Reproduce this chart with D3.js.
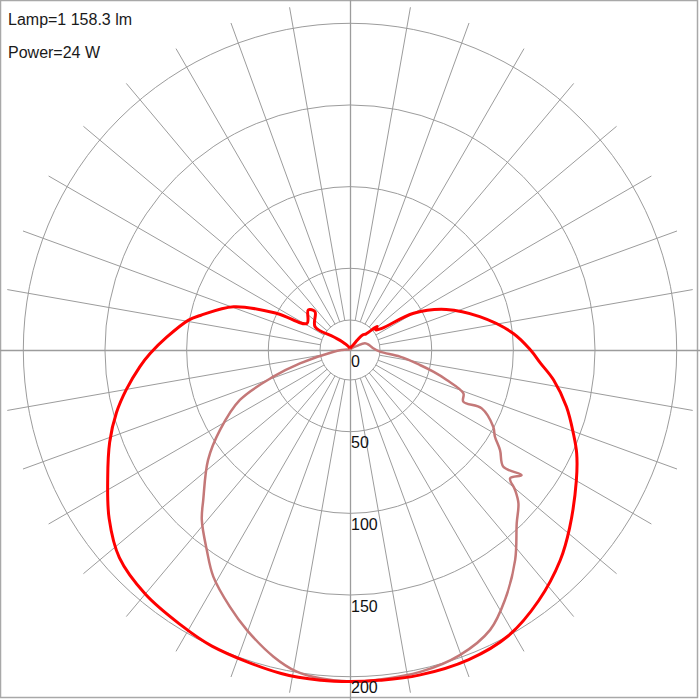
<!DOCTYPE html>
<html><head><meta charset="utf-8">
<script src="https://cdn.jsdelivr.net/npm/d3@7/dist/d3.min.js"></script>
<style>body{margin:0;background:#fff}svg{display:block}text{font-family:"Liberation Sans",Arial,sans-serif}</style>
</head><body><svg id="c" width="700" height="700"></svg>
<script>
// ---- data ----
const infoLines = ["Lamp=1 158.3 lm", "Power=24 W"];
const ringValues = [50, 100, 150, 200];
const tickValues = [0, 50, 100, 150, 200];
const tickLabels = ["0", "50", "100", "150", "200"];
const spokeAngles = d3.range(0, 360, 10);

// C0-C180 plane (signed gamma: negative = left half), cd/klm
const redGamma = [-180,-160,-145,-137,-128.5,-123.7,-137.6,-133.8,-121.7,-116.6,-110.4,-103,-100.5,-94,-89,-85.5,-80,-75,-69,-62,-55,-48,-40,-32,-25,-12,-5,0,
  5,12,21,29,37,45,51,60,65.5,69.5,75.3,81.6,86,90,95.8,104.4,112.8,120,124,128,131,135,140,143,150,160,180];
const redValue = [1,2,4,7,13,25.7,31.8,35.4,31,50,76,94,100.5,112.5,122.4,129,139,148,157.6,168,180,190,195,197.5,200,202.5,203,203,
  203,203.5,203,200,192,182,173,160,152.5,146,137,126,117,110.5,100.5,82,64,45,24,20,22,14,12,8,3,2,1];

// C90-C270 plane
const brownGamma = [-180,-120,-100,-90,-84,-75,-70.8,-65.6,-58.4,-52.2,-44.4,-41.1,-35.6,-31.1,-25.1,-20.2,-14,-9.4,-5.2,0,
  5.2,12.3,19.8,26.6,31.8,38.2,43.9,47.7,49.7,51.3,53.9,52.7,56.3,59.1,61.8,66.1,65.5,69.1,72.8,75.4,77.9,82.4,86.8,95,105,114,120,140,180];
const brownValue = [0,0.5,2,5,10,31.7,49.7,74,93.4,110,128.4,138,150.6,162,173.5,182.7,193.5,199.6,201.8,203,
  202.5,201.7,198.5,191.6,180,163.5,147.2,139.4,132.5,125.6,130,118,110.4,103.4,99.5,88.2,76.2,74.3,62,52.7,43.8,30.9,18.4,14,12,10,5,1,0];

// ---- drawing ----
const W = 700, H = 700, cx = 350, cy = 350;
const svg = d3.select("#c");
const r = d3.scaleLinear().domain([0, 200]).range([0, 326.7]);
const toAngle = g => Math.PI - g * Math.PI / 180;
const gridColor = "#9c9c9c";

svg.append("rect").attr("x", 0.5).attr("y", 0.5).attr("width", W - 3).attr("height", H - 3)
  .attr("fill", "#fff").attr("stroke", "#a8a8a8").attr("stroke-width", 1.5);

const g = svg.append("g").attr("transform", `translate(${cx},${cy})`);

// spokes
const innerR = 30, outerR = 348;
g.selectAll("line.spoke").data(spokeAngles.filter(a => a % 90 !== 0)).join("line")
  .attr("class", "spoke")
  .attr("x1", a => d3.pointRadial(toAngle(a), innerR)[0])
  .attr("y1", a => d3.pointRadial(toAngle(a), innerR)[1])
  .attr("x2", a => d3.pointRadial(toAngle(a), outerR)[0])
  .attr("y2", a => d3.pointRadial(toAngle(a), outerR)[1])
  .attr("stroke", gridColor).attr("stroke-width", 1);

// axes
g.append("line").attr("x1", -cx).attr("x2", W - cx).attr("y1", 0.5).attr("y2", 0.5).attr("stroke", gridColor).attr("stroke-width", 1.3);
g.append("line").attr("y1", -cy).attr("y2", H - cy).attr("x1", 0.5).attr("x2", 0.5).attr("stroke", gridColor).attr("stroke-width", 1.3);

// rings
g.append("circle").attr("r", innerR).attr("fill", "none").attr("stroke", gridColor);
g.selectAll("circle.ring").data(ringValues).join("circle").attr("class", "ring")
  .attr("r", d => r(d)).attr("fill", "none").attr("stroke", gridColor).attr("stroke-width", 1);

// curves
const line = d3.lineRadial().angle(d => toAngle(d[0])).radius(d => r(d[1])).curve(d3.curveCatmullRom.alpha(0.5));
g.append("path").datum(brownGamma.map((a, i) => [a, brownValue[i]]))
  .attr("d", line).attr("fill", "none").attr("stroke", "#c47878").attr("stroke-width", 2.5).attr("stroke-linejoin", "round");
g.append("path").datum(redGamma.map((a, i) => [a, redValue[i]]))
  .attr("d", line).attr("fill", "none").attr("stroke", "#ff0000").attr("stroke-width", 3).attr("stroke-linejoin", "round");

// tick labels
g.selectAll("text.tick").data(tickValues).join("text").attr("class", "tick")
  .attr("x", 1).attr("y", d => r(d) + 16.5)
  .attr("font-size", 16).attr("fill", "#111")
  .text((d, i) => tickLabels[i]);

// info
svg.selectAll("text.info").data(infoLines).join("text").attr("class", "info")
  .attr("x", 8).attr("y", (d, i) => 25 + i * 33)
  .attr("font-size", 16).attr("fill", "#1a1a1a").text(d => d);
</script></body></html>
